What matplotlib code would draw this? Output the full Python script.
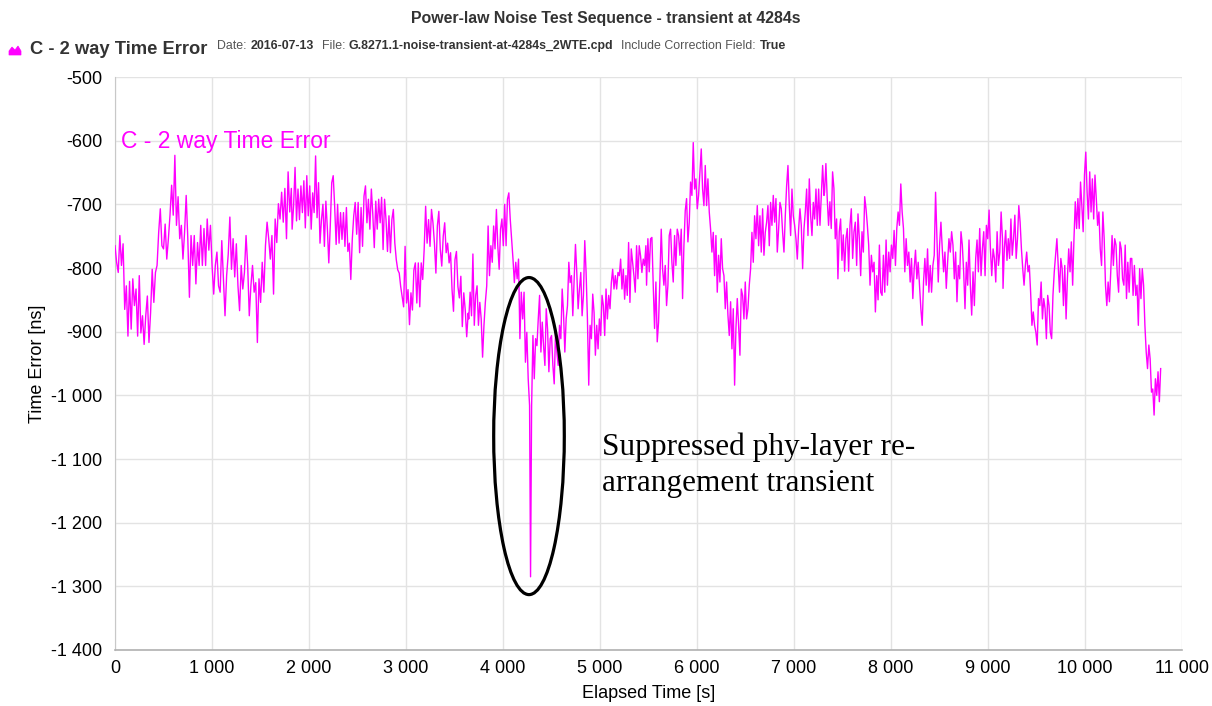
import numpy as np
import matplotlib
matplotlib.use("Agg")
import matplotlib.pyplot as plt
from matplotlib.patches import Ellipse, Polygon
from matplotlib.ticker import FuncFormatter

plt.rcParams['font.family'] = ['Liberation Sans', 'DejaVu Sans']

# ---------------- data ----------------
title = "Power-law Noise Test Sequence - transient at 4284s"
series_name = "C - 2 way Time Error"
date_str = "2016-07-13"
file_str = "G.8271.1-noise-transient-at-4284s_2WTE.cpd"
corr_str = "True"
annotation = "Suppressed phy-layer re-\narrangement transient"

transient_time = 4284
transient_value = -1285

# segment time spans [start, end] in seconds
seg1_span = [0, 1818]
seg2_span = [1826, 3641]
seg3a_span = [3647, 4274]
seg3b_span = [4295, 5473]
seg4_span = [5480, 7309]
seg5_span = [7315, 9149]
seg6_span = [9155, 10780]

seg1 = [-765, -791, -807, -749, -796, -762, -865, -828, -907, -821, -896, -817, -859, -833, -907, -812,
        -902, -875, -920, -875, -844, -917, -870, -802, -854, -807, -796, -744, -707, -765, -770, -731,
        -786, -754, -717, -670, -717, -623, -733, -688, -754, -733, -786, -744, -686, -754, -846, -749,
        -796, -749, -825, -760, -796, -733, -796, -738, -796, -723, -772, -733, -796, -841, -796, -775,
        -828, -838, -757, -817, -875, -812, -778, -720, -802, -754, -814, -762, -828, -867, -796, -833,
        -807, -749, -796, -875, -828, -796, -838, -823, -917, -817, -854, -791, -838, -765, -728, -754,
        -786, -749, -841, -723, -760, -699, -723, -681, -728, -675, -754, -649, -712, -675]

seg2 = [-739, -703, -642, -726, -676, -724, -671, -713, -663, -737, -655, -718, -671, -739, -682, -713,
        -624, -721, -666, -761, -724, -700, -766, -695, -737, -792, -734, -666, -655, -703, -763, -700,
        -761, -713, -755, -713, -766, -705, -774, -761, -818, -755, -718, -697, -747, -697, -776, -705,
        -766, -687, -671, -729, -692, -739, -676, -716, -768, -695, -739, -692, -729, -689, -771, -692,
        -724, -774, -718, -776, -724, -708, -761, -787, -803, -808, -829, -845, -861, -766, -855, -834,
        -889, -839, -866, -803, -792, -855, -792, -861, -792, -818, -771, -703, -761, -724, -766, -708,
        -729, -761, -808, -734, -711, -771, -797, -750, -729, -776, -761, -792, -776, -834, -868, -787,
        -774, -829, -847, -813, -892, -839, -866, -908, -871]

seg3a = [-880, -838, -875, -778, -890, -843, -828, -890, -854, -880, -940, -890, -854, -828, -734, -812,
         -765, -791, -734, -770, -708, -765, -802, -739, -723, -765, -700, -765, -692, -682, -723, -755,
         -786, -823, -791, -817, -786, -911, -838, -880, -838, -948, -901, -974, -1016]

seg3b = [-1016, -906, -974, -911, -922, -880, -843, -932, -885, -922, -953, -864, -896, -963, -911, -906,
         -953, -982, -901, -932, -953, -890, -911, -833, -870, -932, -880, -859, -791, -823, -812, -875,
         -817, -763, -807, -864, -833, -807, -875, -843, -757, -807, -880, -984, -890, -911, -841, -870,
         -937, -890, -927, -880, -906, -843, -859, -906, -833, -880, -843, -864, -823, -802, -833, -812,
         -833, -807, -812, -786, -833, -802, -849, -812, -843, -760, -854, -770, -791, -812, -838, -765,
         -817, -765, -781, -807, -786, -796, -765]

seg4 = [-827, -754, -806, -754, -752, -827, -895, -822, -916, -885, -817, -739, -801, -827, -796, -859,
        -827, -749, -739, -791, -822, -749, -796, -739, -749, -780, -739, -848, -765, -710, -691, -759,
        -728, -665, -686, -603, -676, -660, -707, -686, -650, -613, -676, -702, -639, -702, -660, -712,
        -739, -775, -744, -812, -749, -838, -780, -822, -754, -801, -812, -864, -822, -874, -906, -853,
        -927, -864, -984, -895, -848, -890, -937, -833, -843, -880, -822, -880, -864, -827, -801, -744,
        -791, -718, -754, -702, -765, -718, -775, -707, -780, -744, -728, -702, -765, -697, -733, -686,
        -728, -691, -775, -739, -697, -707, -744, -775, -718, -671, -639, -702, -749, -676, -718, -733,
        -754, -786, -739, -707, -733, -801, -739, -712, -676, -749, -660, -718, -749, -697, -723, -676,
        -733, -676, -733, -686, -639, -686]

seg5 = [-681, -636, -691, -733, -696, -738, -649, -675, -754, -723, -817, -743, -723, -788, -748, -805,
        -754, -738, -805, -733, -707, -785, -743, -728, -796, -715, -754, -812, -743, -775, -688, -707,
        -733, -764, -827, -780, -806, -791, -869, -812, -850, -764, -838, -843, -780, -838, -756, -827,
        -775, -806, -764, -785, -741, -796, -738, -712, -733, -668, -712, -738, -806, -754, -796, -775,
        -822, -785, -848, -801, -772, -817, -791, -827, -864, -890, -822, -785, -827, -770, -838, -796,
        -838, -796, -780, -681, -754, -822, -764, -728, -770, -806, -775, -832, -791, -754, -775, -743,
        -764, -817, -775, -853, -796, -817, -743, -764, -806, -864, -791, -827, -756, -827, -874, -806,
        -859, -785, -756, -806, -738, -812, -770, -743, -812, -733, -754, -709, -770, -812, -770, -785,
        -822, -743, -796, -775, -712, -754]

seg6 = [-832, -769, -741, -788, -754, -785, -723, -780, -754, -717, -785, -754, -702, -728, -770, -801,
        -827, -796, -775, -806, -796, -838, -890, -869, -890, -901, -921, -848, -859, -822, -880, -848,
        -864, -911, -843, -859, -901, -911, -843, -806, -780, -754, -796, -838, -785, -801, -859, -796,
        -880, -817, -770, -806, -759, -827, -754, -696, -738, -691, -738, -665, -702, -743, -654, -618,
        -681, -723, -649, -712, -660, -723, -654, -691, -733, -712, -770, -796, -712, -754, -827, -859,
        -822, -853, -806, -749, -796, -754, -764, -812, -838, -759, -770, -817, -827, -764, -848, -791,
        -838, -785, -785, -843, -796, -843, -827, -890, -801, -848, -801, -827, -890, -932, -958, -921,
        -943, -995, -990, -1031, -974, -1000, -963, -1010, -958]

x_ticks = list(range(0, 11001, 1000))
y_ticks = list(range(-1400, -499, 100))

# ---------------- assemble series ----------------
t_parts, v_parts = [], []
for span, vals in [(seg1_span, seg1), (seg2_span, seg2), (seg3a_span, seg3a)]:
    t_parts.append(np.linspace(span[0], span[1], len(vals)))
    v_parts.append(np.array(vals, dtype=float))
t_parts.append(np.array([transient_time], dtype=float))
v_parts.append(np.array([transient_value], dtype=float))
for span, vals in [(seg3b_span, seg3b), (seg4_span, seg4), (seg5_span, seg5), (seg6_span, seg6)]:
    t_parts.append(np.linspace(span[0], span[1], len(vals)))
    v_parts.append(np.array(vals, dtype=float))
t = np.concatenate(t_parts)
v = np.concatenate(v_parts)

# ---------------- figure ----------------
W, H = 1212, 706
fig = plt.figure(figsize=(W / 100, H / 100), dpi=100)
ax = fig.add_axes([115 / W, 1 - 650 / H, (1182 - 115) / W, (650 - 77) / H])

MAG = '#ff00ff'
ax.plot(t, v, color=MAG, lw=1.0, zorder=3)

ax.set_xlim(0, 11000)
ax.set_ylim(-1400, -500)
ax.set_xticks(x_ticks)
ax.set_yticks(y_ticks)
fmt = FuncFormatter(lambda val, pos: f"{int(round(val)):,}".replace(",", " "))
ax.xaxis.set_major_formatter(fmt)
ax.yaxis.set_major_formatter(fmt)
ax.tick_params(axis='both', length=0, labelsize=13, colors='black')
ax.tick_params(axis='y', pad=9)
ax.tick_params(axis='x', pad=7)
ax.grid(True, color='#e3e3e3', lw=1.0, zorder=0)
for s in ['top', 'right']:
    ax.spines[s].set_visible(False)
ax.spines['left'].set_color('#c8c8c8')
ax.spines['bottom'].set_color('#b0b0b0')
ax.spines['bottom'].set_linewidth(1.2)

ax.set_xlabel("Elapsed Time [s]", fontsize=13, labelpad=6)
ax.set_ylabel("Time Error [ns]", fontsize=13, labelpad=4)

# series label inside plot
ax.text(0.006, 0.887, series_name, transform=ax.transAxes, color=MAG, fontsize=16.5,
        ha='left', va='center')

# annotation ellipse and text
ell = Ellipse((transient_time - 16, -1064), width=728, height=498, fill=False,
              edgecolor='black', lw=2.3, zorder=4)
ax.add_patch(ell)
ax.text(5020, -1110, annotation, fontsize=22.5, family=['Liberation Serif', 'DejaVu Serif'],
        ha='left', va='center', color='black', linespacing=1.35)

# ---------------- header ----------------
fig.text(0.5, 1 - 18 / H, title, ha='center', va='center', fontsize=11.4,
         fontweight='bold', color='#333333')

# legend icon (area-chart symbol)
icon = Polygon([[9, H - 55], [9, H - 51], [12, H - 47], [15, H - 50], [18, H - 46],
                [21, H - 51], [21, H - 55]], closed=True, transform=None,
               facecolor=MAG, edgecolor=MAG, lw=0.5)
fig.patches.append(icon)

fig.canvas.draw()
renderer = fig.canvas.get_renderer()

x_cursor = 30
parts = [(series_name, 13.2, 'bold', '#333333', 10, 49),
         ("Date: ", 8.9, 'normal', '#555555', 0, 46),
         (date_str, 8.9, 'bold', '#333333', 8, 46),
         ("File: ", 8.9, 'normal', '#555555', 0, 46),
         (file_str, 8.9, 'bold', '#333333', 8, 46),
         ("Include Correction Field: ", 8.9, 'normal', '#555555', 0, 46),
         (corr_str, 8.9, 'bold', '#333333', 0, 46)]
for txt, fs, fw, col, gap, ypx in parts:
    tt = fig.text(x_cursor / W, 1 - ypx / H, txt, fontsize=fs,
                  fontweight=fw, color=col, ha='left', va='center')
    bb = tt.get_window_extent(renderer)
    x_cursor += bb.width + gap

fig.savefig("out.png", dpi=100)
